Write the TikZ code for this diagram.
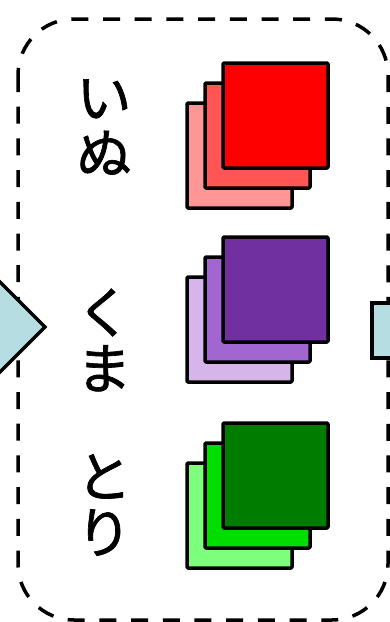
\documentclass[tikz,border=0pt]{standalone}
\usepackage{fontspec}
\newfontfamily\jpfont[FakeBold=1.2]{Noto Sans CJK JP}
\definecolor{arrowblue}{RGB}{182,222,226}
\definecolor{redA}{RGB}{255,0,0}
\definecolor{redB}{RGB}{255,85,85}
\definecolor{redC}{RGB}{255,150,150}
\definecolor{purA}{RGB}{112,48,160}
\definecolor{purB}{RGB}{162,102,208}
\definecolor{purC}{RGB}{214,182,234}
\definecolor{grnA}{RGB}{0,125,0}
\definecolor{grnB}{RGB}{0,222,0}
\definecolor{grnC}{RGB}{125,255,125}
\begin{document}
\begin{tikzpicture}[x=1pt,y=-1pt,
  sq/.style={draw=black,line width=3.5pt,line join=round,rounded corners=1pt},
  border/.style={draw=black,line width=3.5pt,dash pattern=on 17pt off 14.7pt,rounded corners=56pt},
  conn/.style={draw=black,line width=3.5pt,fill=arrowblue,line join=miter},
  word/.style={font=\jpfont\fontsize{55}{56}\selectfont,align=center,inner sep=0pt}]
\useasboundingbox (0,0) rectangle (390,622);
% dashed group frame
\draw[border] (18,19) rectangle (388,620);
% connectors entering and leaving
\draw[conn] (-20,262) -- (45,327) -- (-20,392) -- cycle;
\draw[conn] (372,303) rectangle (402,358);
% labels
\node[word] (inu) at (104,127) {い\\ぬ};
\node[word] (kuma) at (104,340) {く\\ま};
\node[word] (tori) at (104,505) {と\\り};
% red stack
\draw[sq,fill=redC] (187,103) rectangle ++(105,105);
\draw[sq,fill=redB] (205,83) rectangle ++(105,105);
\draw[sq,fill=redA] (223,63) rectangle ++(105,105);
% purple stack
\draw[sq,fill=purC] (187,277) rectangle ++(105,105);
\draw[sq,fill=purB] (205,257) rectangle ++(105,105);
\draw[sq,fill=purA] (223,237) rectangle ++(105,105);
% green stack
\draw[sq,fill=grnC] (187,463) rectangle ++(105,105);
\draw[sq,fill=grnB] (205,443) rectangle ++(105,105);
\draw[sq,fill=grnA] (223,423) rectangle ++(105,105);
\end{tikzpicture}
\end{document}
